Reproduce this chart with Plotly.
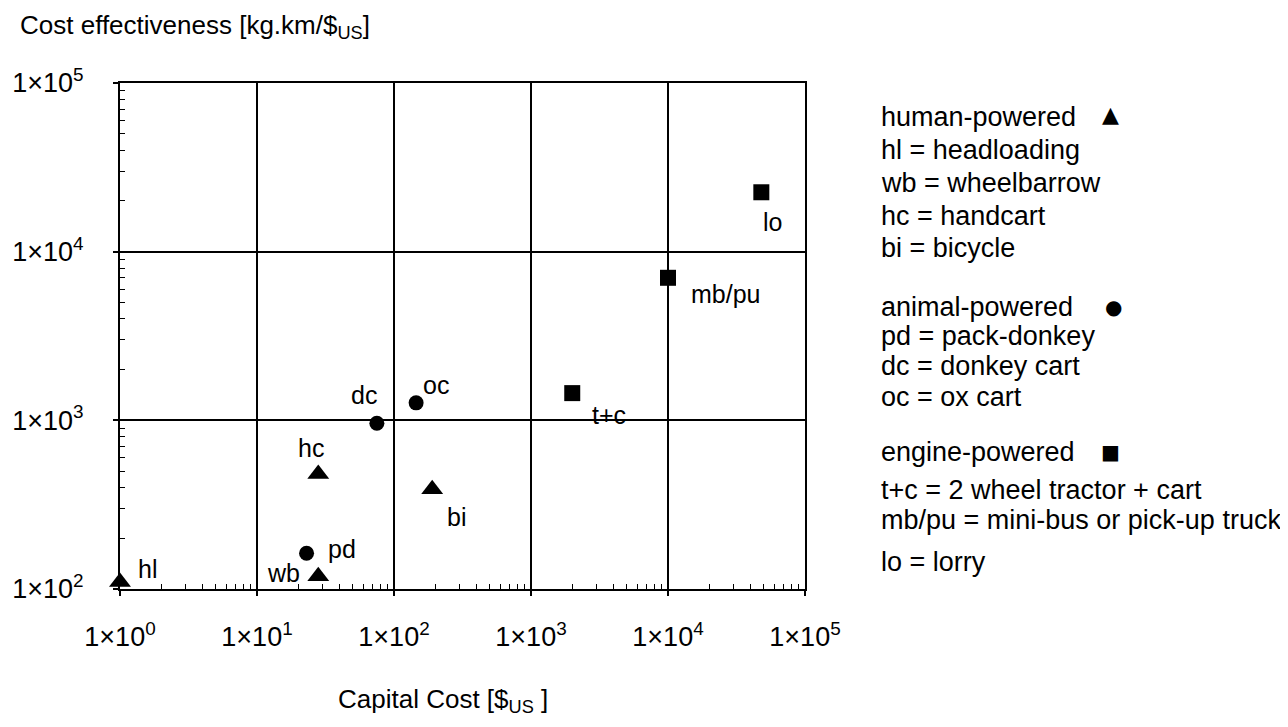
import numpy as np
import plotly.graph_objects as go

# ---- data ----
human_labels = ["hl", "wb", "hc", "bi"]
human_cost = [1, 28, 28, 190]
human_eff = [110, 119, 480, 390]

animal_labels = ["pd", "dc", "oc"]
animal_cost = [23, 75, 145]
animal_eff = [163, 960, 1270]

engine_labels = ["t+c", "mb/pu", "lo"]
engine_cost = [2000, 10000, 48000]
engine_eff = [1450, 7000, 22500]

x_tickvals = [1, 10, 100, 1000, 10000, 100000]
x_ticktext = ["1×10<sup>0</sup>", "1×10<sup>1</sup>", "1×10<sup>2</sup>",
              "1×10<sup>3</sup>", "1×10<sup>4</sup>", "1×10<sup>5</sup>"]
y_tickvals = [100, 1000, 10000, 100000]
y_ticktext = ["1×10<sup>2</sup>", "1×10<sup>3</sup>", "1×10<sup>4</sup>", "1×10<sup>5</sup>"]

legend_lines = [
    ("human-powered", 117), ("hl = headloading", 150), ("wb = wheelbarrow", 183),
    ("hc = handcart", 216), ("bi = bicycle", 248),
    ("animal-powered", 307), ("pd = pack-donkey", 336), ("dc = donkey cart", 366),
    ("oc = ox cart", 397),
    ("engine-powered", 452), ("t+c = 2 wheel tractor + cart", 490),
    ("mb/pu = mini-bus or pick-up truck", 520), ("lo = lorry", 562),
]

# label offsets (styles, px)
label_shift = {
    "hl": (27, 13), "wb": (-35, 3), "hc": (-7, 26), "bi": (24, -28),
    "pd": (35, 4), "dc": (-13, 28), "oc": (20, 18),
    "t+c": (37, -22), "mb/pu": (57, -16), "lo": (11, -30),
}

FONT = "Liberation Sans, Arial, Helvetica, sans-serif"
FS = 27
OFF = 8  # page body margin
W, H = 1288 - 2 * OFF, 727 - 2 * OFF
L, T = 120 - OFF, 83 - OFF
R = W - (805 - OFF)
B = H - (589 - OFF)
PW, PH = W - L - R, H - T - B


def px_to_paper_x(px):
    return (px - OFF - L) / PW


def px_to_paper_y(py):
    return (H - B - (py - OFF)) / PH


fig = go.Figure()
for xs, ys, sym, size in [(human_cost, human_eff, "triangle-up", 19),
                          (animal_cost, animal_eff, "circle", 15),
                          (engine_cost, engine_eff, "square", 16)]:
    fig.add_trace(go.Scatter(x=xs, y=ys, mode="markers", cliponaxis=False,
                             marker=dict(symbol=sym, size=size, color="black",
                                         line=dict(width=0)),
                             showlegend=False, hoverinfo="x+y"))

annotations = []
for labs, xs, ys in [(human_labels, human_cost, human_eff),
                     (animal_labels, animal_cost, animal_eff),
                     (engine_labels, engine_cost, engine_eff)]:
    for lab, xv, yv in zip(labs, xs, ys):
        dx, dy = label_shift[lab]
        annotations.append(dict(x=np.log10(xv), y=np.log10(yv), xref="x", yref="y",
                                text=lab, showarrow=False, xshift=dx, yshift=dy,
                                font=dict(family=FONT, size=25, color="black")))

for txt, py in legend_lines:
    annotations.append(dict(x=px_to_paper_x(879), y=px_to_paper_y(py), xref="paper", yref="paper",
                            xanchor="left", yanchor="middle", text=txt, showarrow=False,
                            font=dict(family=FONT, size=FS, color="black")))

for sym, px, py, sz in [("▲", 1110, 115, 22), ("●", 1113, 307, 20), ("■", 1110, 452, 20)]:
    annotations.append(dict(x=px_to_paper_x(px), y=px_to_paper_y(py), xref="paper", yref="paper",
                            xanchor="center", yanchor="middle", text=sym, showarrow=False,
                            font=dict(family="DejaVu Sans", size=sz, color="black")))

annotations.append(dict(x=px_to_paper_x(18), y=px_to_paper_y(27), xref="paper", yref="paper",
                        xanchor="left", yanchor="middle", showarrow=False,
                        text="Cost effectiveness [kg.km/$<sub>US</sub>]",
                        font=dict(family=FONT, size=26, color="black")))
annotations.append(dict(x=px_to_paper_x(443), y=px_to_paper_y(700), xref="paper", yref="paper",
                        xanchor="center", yanchor="middle", showarrow=False,
                        text="Capital Cost [$<sub>US</sub> ]",
                        font=dict(family=FONT, size=26, color="black")))

x_minor = [m * 10 ** d for d in range(0, 5) for m in range(2, 10)]
y_minor = [m * 10 ** d for d in range(2, 5) for m in range(2, 10)]

axis_common = dict(type="log", showline=True, linecolor="black", linewidth=2, mirror=True,
                   showgrid=True, gridcolor="black", gridwidth=1.5, zeroline=False,
                   ticks="outside", ticklen=5, tickcolor="black", tickwidth=1.5,
                   tickfont=dict(family=FONT, size=27, color="black"))

fig.update_xaxes(range=[0, 5], tickmode="array", tickvals=x_tickvals, ticktext=x_ticktext,
                 ticklabelstandoff=18,
                 minor=dict(tickmode="array", tickvals=x_minor, ticks="inside", ticklen=5,
                            tickcolor="black", tickwidth=1.2, showgrid=False),
                 **axis_common)
fig.update_yaxes(range=[2, 5], tickmode="array", tickvals=y_tickvals, ticktext=y_ticktext,
                 ticklabelstandoff=24,
                 minor=dict(tickmode="array", tickvals=y_minor, ticks="inside", ticklen=5,
                            tickcolor="black", tickwidth=1.2, showgrid=False),
                 **axis_common)

fig.update_layout(width=W, height=H, margin=dict(l=L, r=R, t=T, b=B, autoexpand=False),
                  paper_bgcolor="white", plot_bgcolor="white", showlegend=False,
                  annotations=annotations,
                  font=dict(family=FONT, size=FS, color="black"))

fig.write_html("out.html")
